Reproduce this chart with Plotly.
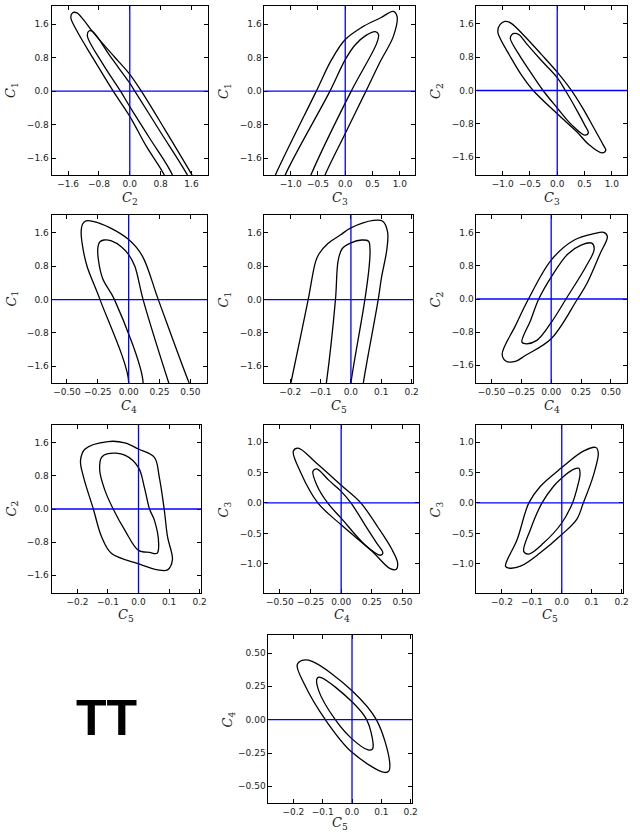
import plotly.graph_objects as go

W, H = 640, 832

# Axis limits and ticks for each expansion coefficient
AXIS_RANGE = {
    "C1": [-2.0, 2.03],
    "C2": [-2.03, 2.03],
    "C3": [-1.48, 1.28],
    "C4": [-0.625, 0.635],
    "C5": [-0.285, 0.205],
}
TICK_VALS = {
    "C1": [-1.6, -0.8, 0.0, 0.8, 1.6],
    "C2": [-1.6, -0.8, 0.0, 0.8, 1.6],
    "C3": [-1.0, -0.5, 0.0, 0.5, 1.0],
    "C4": [-0.5, -0.25, 0.0, 0.25, 0.5],
    "C5": [-0.2, -0.1, 0.0, 0.1, 0.2],
}
TICK_TEXT = {
    "C1": ["\u22121.6", "\u22120.8", "0.0", "0.8", "1.6"],
    "C2": ["\u22121.6", "\u22120.8", "0.0", "0.8", "1.6"],
    "C3": ["\u22121.0", "\u22120.5", "0.0", "0.5", "1.0"],
    "C4": ["\u22120.50", "\u22120.25", "0.00", "0.25", "0.50"],
    "C5": ["\u22120.2", "\u22120.1", "0.0", "0.1", "0.2"],
}

# Confidence contours (outer and inner) for each parameter pair
c2c1_outer_x = [-1.53, -1.48, -1.38, -1.25, -0.95, -0.40, 0.00, 0.30, 0.90, 1.62, 1.85, 1.05, 0.90, 0.42, 0.00, -0.43, -0.95, -1.38]
c2c1_outer_y = [1.76, 1.87, 1.87, 1.76, 1.40, 0.82, 0.40, 0.00, -0.90, -2.01, -2.40, -2.40, -2.01, -1.30, -0.60, 0.00, 0.78, 1.45]
c2c1_inner_x = [-1.10, -1.05, -0.96, -0.50, 0.00, 0.13, 0.80, 1.50, 1.70, 1.20, 1.11, 0.50, 0.00, -0.24, -0.70]
c2c1_inner_y = [1.32, 1.44, 1.42, 0.82, 0.19, 0.00, -0.98, -2.01, -2.40, -2.40, -2.01, -1.10, -0.37, 0.00, 0.65]

c3c1_outer_x = [-1.40, -1.28, -0.53, -0.25, 0.00, 0.30, 0.65, 0.88, 0.95, 0.88, 0.64, 0.38, 0.00, -0.37, -0.48]
c3c1_outer_y = [-2.40, -2.00, 0.00, 0.75, 1.23, 1.52, 1.75, 1.90, 1.78, 1.30, 0.70, 0.00, -1.01, -2.00, -2.40]
c3c1_inner_x = [-1.20, -1.10, -0.28, 0.00, 0.18, 0.38, 0.55, 0.61, 0.58, 0.11, -0.63, -0.75]
c3c1_inner_y = [-2.40, -2.00, 0.00, 0.75, 1.10, 1.33, 1.42, 1.35, 1.15, 0.00, -2.00, -2.40]

c3c2_outer_x = [-1.09, -1.05, -0.96, -0.85, -0.58, -0.30, 0.00, 0.25, 0.47, 0.68, 0.84, 0.89, 0.82, 0.58, 0.35, 0.00, -0.44, -0.67, -0.88, -1.05]
c3c2_outer_y = [1.42, 1.58, 1.66, 1.62, 1.28, 0.88, 0.44, 0.02, -0.43, -0.92, -1.30, -1.44, -1.50, -1.30, -0.98, -0.56, 0.00, 0.40, 0.86, 1.26]
c3c2_inner_x = [-0.86, -0.84, -0.79, -0.70, -0.56, -0.29, 0.00, 0.15, 0.37, 0.50, 0.57, 0.50, 0.26, 0.00, -0.26, -0.50, -0.70]
c3c2_inner_y = [1.25, 1.33, 1.37, 1.34, 1.12, 0.72, 0.31, 0.00, -0.50, -0.82, -1.02, -1.07, -0.82, -0.42, 0.00, 0.46, 0.86]

c4c1_outer_x = [0.00, -0.232, -0.336, -0.368, -0.385, -0.372, -0.345, -0.28, -0.15, 0.00, 0.11, 0.24, 0.49, 0.55, -0.05]
c4c1_outer_y = [-2.00, 0.00, 0.79, 1.19, 1.62, 1.82, 1.89, 1.87, 1.72, 1.44, 1.05, 0.00, -2.00, -2.40, -2.40]
c4c1_inner_x = [0.117, -0.115, -0.21, -0.245, -0.25, -0.235, -0.20, -0.14, -0.06, 0.00, 0.05, 0.117, 0.325, 0.37, 0.08]
c4c1_inner_y = [-2.00, 0.00, 0.50, 0.95, 1.22, 1.38, 1.43, 1.41, 1.27, 1.08, 0.80, 0.00, -2.00, -2.40, -2.40]

c5c1_outer_x = [-0.198, -0.141, -0.117, -0.105, -0.075, -0.035, 0.00, 0.074, 0.105, 0.121, 0.118, 0.101, 0.090, 0.041, 0.035, -0.21]
c5c1_outer_y = [-2.00, 0.00, 0.90, 1.10, 1.35, 1.55, 1.72, 1.90, 1.88, 1.62, 1.18, 0.54, 0.00, -2.00, -2.40, -2.40]
c5c1_inner_x = [-0.081, -0.051, -0.042, -0.029, 0.00, 0.036, 0.058, 0.063, 0.060, 0.046, 0.00, -0.005, -0.09]
c5c1_inner_y = [-2.00, 0.00, 0.94, 1.22, 1.36, 1.43, 1.40, 1.18, 0.78, 0.00, -2.00, -2.40, -2.40]

c4c2_outer_x = [-0.41, -0.30, -0.19, 0.00, 0.19, 0.36, 0.44, 0.47, 0.41, 0.30, 0.22, 0.00, -0.22, -0.30, -0.38]
c4c2_outer_y = [-1.33, -0.65, 0.00, 0.94, 1.42, 1.58, 1.61, 1.51, 1.10, 0.38, 0.00, -0.96, -1.37, -1.51, -1.50]
c4c2_inner_x = [-0.245, -0.17, -0.104, 0.00, 0.137, 0.25, 0.34, 0.36, 0.29, 0.124, 0.00, -0.12, -0.22]
c4c2_inner_y = [-1.04, -0.50, 0.00, 0.53, 1.08, 1.30, 1.35, 1.20, 0.78, 0.00, -0.57, -1.00, -1.08]

c5c2_outer_x = [-0.19, -0.18, -0.148, -0.121, -0.089, -0.002, 0.063, 0.095, 0.111, 0.095, 0.084, 0.068, 0.052, 0.00, -0.045, -0.10, -0.175]
c5c2_outer_y = [1.17, 0.77, 0.00, -0.67, -1.07, -1.32, -1.47, -1.47, -1.23, -0.67, 0.00, 0.77, 1.25, 1.45, 1.60, 1.63, 1.45]
c5c2_inner_x = [-0.121, -0.127, -0.110, -0.083, -0.045, 0.00, 0.036, 0.061, 0.066, 0.052, 0.036, 0.019, 0.00, -0.045, -0.10]
c5c2_inner_y = [1.25, 0.93, 0.45, 0.00, -0.51, -1.00, -1.05, -1.07, -0.83, -0.27, 0.00, 0.53, 1.00, 1.30, 1.34]

c4c3_outer_x = [-0.39, -0.35, -0.20, 0.00, 0.16, 0.30, 0.41, 0.46, 0.45, 0.40, 0.25, 0.00, -0.19, -0.33]
c4c3_outer_y = [0.85, 0.90, 0.65, 0.29, 0.00, -0.40, -0.75, -0.98, -1.09, -1.08, -0.79, -0.36, 0.00, 0.50]
c4c3_inner_x = [-0.23, -0.20, -0.10, 0.00, 0.08, 0.20, 0.29, 0.34, 0.32, 0.20, 0.00, -0.11, -0.20]
c4c3_inner_y = [0.52, 0.56, 0.37, 0.19, 0.00, -0.38, -0.66, -0.82, -0.86, -0.70, -0.25, 0.00, 0.30]

c5c3_outer_x = [-0.188, -0.149, -0.110, -0.072, 0.00, 0.072, 0.114, 0.122, 0.105, 0.072, 0.050, 0.00, -0.072, -0.138, -0.177]
c5c3_outer_y = [-1.04, -0.60, 0.00, 0.27, 0.58, 0.85, 0.91, 0.82, 0.44, 0.00, -0.27, -0.52, -0.82, -1.04, -1.07]
c5c3_inner_x = [-0.127, -0.105, -0.066, -0.028, 0.00, 0.039, 0.057, 0.061, 0.050, 0.036, 0.00, -0.061, -0.110]
c5c3_inner_y = [-0.80, -0.44, 0.00, 0.27, 0.41, 0.55, 0.57, 0.47, 0.22, 0.00, -0.33, -0.66, -0.84]

c5c4_outer_x = [-0.187, -0.170, -0.136, 0.00, 0.083, 0.128, 0.126, 0.111, 0.00, -0.091, -0.164]
c5c4_outer_y = [0.41, 0.444, 0.437, 0.217, 0.00, -0.31, -0.384, -0.396, -0.245, 0.00, 0.273]
c5c4_inner_x = [-0.119, -0.108, 0.00, 0.050, 0.072, 0.070, 0.055, 0.00, -0.057, -0.114]
c5c4_inner_y = [0.31, 0.318, 0.134, 0.00, -0.18, -0.22, -0.227, -0.144, 0.00, 0.22]

# (x parameter, y parameter, contours)
PANELS = [
    ("C2", "C1", [(c2c1_outer_x, c2c1_outer_y), (c2c1_inner_x, c2c1_inner_y)]),
    ("C3", "C1", [(c3c1_outer_x, c3c1_outer_y), (c3c1_inner_x, c3c1_inner_y)]),
    ("C3", "C2", [(c3c2_outer_x, c3c2_outer_y), (c3c2_inner_x, c3c2_inner_y)]),
    ("C4", "C1", [(c4c1_outer_x, c4c1_outer_y), (c4c1_inner_x, c4c1_inner_y)]),
    ("C5", "C1", [(c5c1_outer_x, c5c1_outer_y), (c5c1_inner_x, c5c1_inner_y)]),
    ("C4", "C2", [(c4c2_outer_x, c4c2_outer_y), (c4c2_inner_x, c4c2_inner_y)]),
    ("C5", "C2", [(c5c2_outer_x, c5c2_outer_y), (c5c2_inner_x, c5c2_inner_y)]),
    ("C4", "C3", [(c4c3_outer_x, c4c3_outer_y), (c4c3_inner_x, c4c3_inner_y)]),
    ("C5", "C3", [(c5c3_outer_x, c5c3_outer_y), (c5c3_inner_x, c5c3_inner_y)]),
    ("C5", "C4", [(c5c4_outer_x, c5c4_outer_y), (c5c4_inner_x, c5c4_inner_y)]),
]

# Subplot boxes in pixels: (left, right), (top, bottom), x-label offset
BOXES = [
    ((52, 210), (6, 175), -24), ((267, 419), (6, 175), -24), ((481, 633), (6, 175), -24),
    ((52, 209), (215, 383), -23), ((267, 417), (215, 383), -23), ((481, 633), (215, 383), -23),
    ((52, 203), (425, 593), -22), ((267, 423), (425, 593), -22), ((481, 629), (425, 593), -22),
    ((271, 416), (635, 803), -20),
]

fig = go.Figure()
shapes = []
annotations = []

axis_style = dict(
    showline=True, linecolor="black", linewidth=1, mirror="allticks",
    ticks="inside", ticklen=4, tickwidth=1, tickcolor="black",
    showgrid=False, zeroline=False,
    tickfont=dict(family="DejaVu Sans", size=9, color="#222"),
)

label_font = dict(family="DejaVu Serif", size=13, color="#222")

for i, ((xp, yp, contours), ((l, r), (t, b), xlab_dy)) in enumerate(zip(PANELS, BOXES), start=1):
    sfx = "" if i == 1 else str(i)
    for cx, cy in contours:
        fig.add_trace(go.Scatter(
            x=cx + cx[:1], y=cy + cy[:1], mode="lines",
            line=dict(color="black", width=1.3, shape="spline", smoothing=1.0),
            xaxis="x" + sfx, yaxis="y" + sfx, showlegend=False, hoverinfo="skip",
        ))
    fig.layout["xaxis" + sfx] = dict(
        axis_style, domain=[l / W, r / W], range=AXIS_RANGE[xp],
        tickvals=TICK_VALS[xp], ticktext=TICK_TEXT[xp], anchor="y" + sfx,
    )
    fig.layout["yaxis" + sfx] = dict(
        axis_style, domain=[1 - b / H, 1 - t / H], range=AXIS_RANGE[yp],
        tickvals=TICK_VALS[yp], ticktext=TICK_TEXT[yp], anchor="x" + sfx,
    )
    # fiducial crosshair at zero
    shapes.append(dict(type="line", xref="x" + sfx, yref="y" + sfx + " domain",
                       x0=0, x1=0, y0=0, y1=1, line=dict(color="#0000ff", width=1.3)))
    shapes.append(dict(type="line", xref="x" + sfx + " domain", yref="y" + sfx,
                       x0=0, x1=1, y0=0, y1=0, line=dict(color="#0000ff", width=1.3)))
    # axis labels
    annotations.append(dict(
        text="<i>C</i><sub>%s</sub>" % xp[1:], xref="x" + sfx + " domain", yref="y" + sfx + " domain",
        x=0.5, y=0, yshift=xlab_dy, xanchor="center", yanchor="middle", showarrow=False, font=label_font,
    ))
    annotations.append(dict(
        text="<i>C</i><sub>%s</sub>" % yp[1:], xref="x" + sfx + " domain", yref="y" + sfx + " domain",
        x=0, y=0.5, xshift=-40, xanchor="center", yanchor="middle", textangle=-90,
        showarrow=False, font=label_font,
    ))

annotations.append(dict(
    text="TT", xref="paper", yref="paper", x=107.5 / W, y=1 - 718 / H,
    xanchor="center", yanchor="middle", showarrow=False,
    font=dict(family="Liberation Sans", size=50, color="black", weight="bold"),
))

fig.update_layout(
    width=W, height=H, margin=dict(l=0, r=0, t=0, b=0),
    paper_bgcolor="white", plot_bgcolor="white",
    shapes=shapes, annotations=annotations, showlegend=False,
)

fig.write_html("out.html")
